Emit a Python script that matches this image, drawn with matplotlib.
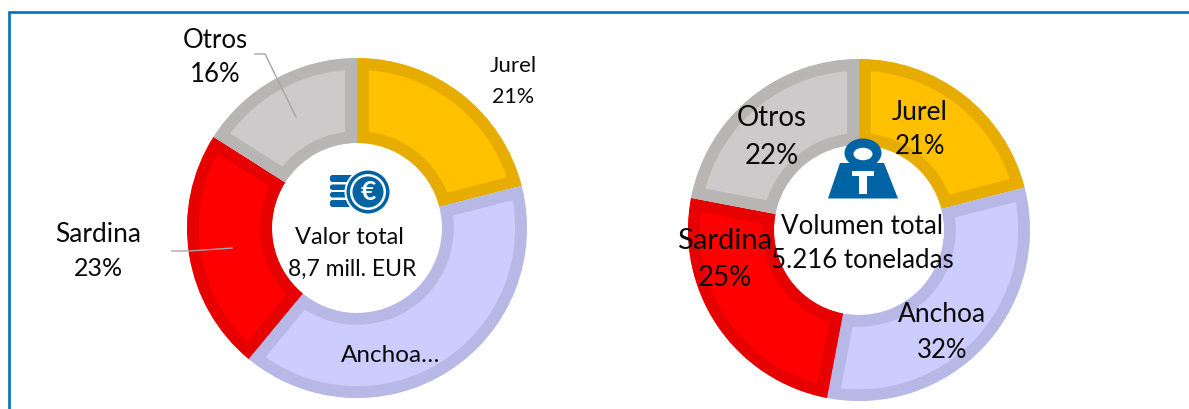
import matplotlib
matplotlib.use("Agg")
import matplotlib.pyplot as plt
from matplotlib.patches import Circle, Ellipse, Polygon, Rectangle, FancyBboxPatch

plt.rcParams["font.family"] = ["Lato", "DejaVu Sans"]

species = ["Jurel", "Anchoa", "Sardina", "Otros"]
valor_pct = [21, 40, 23, 16]
volumen_pct = [21, 32, 25, 22]

fills = ["#FFC000", "#CCCCFF", "#FF0000", "#CCCACA"]
edges = ["#E6AD00", "#B8B8E6", "#E60000", "#B8B5B5"]
BLUE = "#0063A3"
H = 409


def Y(py):
    # picture rows to axes y
    return H - py


def donut(ax, vals, cx, cy, r, hole):
    wedges, _ = ax.pie(vals, startangle=90, counterclock=False, center=(cx, Y(cy)), radius=r,
                       colors=fills, wedgeprops=dict(width=r - hole))
    for w, c in zip(wedges, edges):
        # stroke stays inside the slice, so draw it double and clip it
        w.set_edgecolor(c)
        w.set_linewidth(17)
        w.set_joinstyle("miter")
        w.set_clip_on(True)
        w.set_clip_path(w)


def label(ax, x, y, s, size):
    ax.text(x, Y(y), s, ha="center", va="center", fontsize=size, color="#0a0a0a", zorder=10)


def euro_icon(ax):
    for y, h, x1 in [(175, 7, 356), (184.5, 5.5, 350), (192, 5.5, 350), (200, 7, 356)]:
        ax.add_patch(FancyBboxPatch((330, Y(y + h)), x1 - 330, h, boxstyle="round,pad=0,rounding_size=2.5",
                                    fc=BLUE, ec="none", zorder=5))
    ax.add_patch(Circle((368, Y(192)), 23.5, fc="white", ec="none", zorder=6))
    ax.add_patch(Circle((368, Y(192)), 21.5, fc=BLUE, ec="none", zorder=7))
    ax.add_patch(Circle((368, Y(192)), 18, fc="white", ec="none", zorder=8))
    ax.add_patch(Circle((368, Y(192)), 15.5, fc=BLUE, ec="none", zorder=9))
    ax.text(368, Y(192), "€", color="white", fontsize=19, fontweight="bold", ha="center", va="center", zorder=10)


def weight_icon(ax):
    ax.add_patch(Ellipse((863, Y(153)), 37, 29, fc=BLUE, ec="none", zorder=5))
    ax.add_patch(Polygon([(840, Y(163)), (884, Y(163)), (898, Y(198.5)), (828, Y(198.5))],
                         closed=True, fc=BLUE, ec="none", zorder=5))
    ax.add_patch(Ellipse((863, Y(154)), 19, 12.5, fc="white", ec="none", zorder=6))
    ax.add_patch(Rectangle((852, Y(176)), 22, 5, fc="white", ec="none", zorder=6))
    ax.add_patch(Rectangle((859, Y(194)), 8, 18, fc="white", ec="none", zorder=6))


fig = plt.figure(figsize=(11.89, 4.09), dpi=100)
ax = fig.add_axes([0, 0, 1, 1])

donut(ax, valor_pct, 357, 228, 170, 85)
donut(ax, volumen_pct, 859, 230, 171, 85)

ax.set_xlim(0, 1189)
ax.set_ylim(0, H)
ax.set_aspect("auto")
ax.axis("off")

# frame, open on the right and at the bottom
ax.plot([9, 9, 1189], [Y(409), Y(12), Y(12)], color="#0070C0", lw=1.9, solid_joinstyle="miter", zorder=12)

# leader lines
ax.plot([255, 265, 296], [Y(54), Y(54), Y(117)], color="#A6A6A6", lw=1, zorder=4)
ax.plot([172, 190, 232], [Y(251), Y(251), Y(248)], color="#A6A6A6", lw=1, zorder=4)

euro_icon(ax)
weight_icon(ax)

label(ax, 215, 41, "Otros", 18.5)
label(ax, 215, 74, "16%", 18.5)
label(ax, 513, 66, "Jurel", 16)
label(ax, 513, 97, "21%", 15.5)
label(ax, 98, 235, "Sardina", 19)
label(ax, 98, 269, "23%", 18)
label(ax, 391, 356, "Anchoa…", 17.5)
label(ax, 349, 237, "Valor total", 17)
label(ax, 352, 269, "8,7 mill. EUR", 16.5)

label(ax, 772, 118, "Otros", 20)
label(ax, 772, 156, "22%", 20)
label(ax, 920, 112, "Jurel", 19)
label(ax, 920, 146, "21%", 18.5)
label(ax, 725, 241, "Sardina", 21)
label(ax, 725, 278, "25%", 20)
label(ax, 942, 315, "Anchoa", 19)
label(ax, 942, 350, "32%", 18.5)
label(ax, 862, 227, "Volumen total", 18.7)
label(ax, 862, 261, "5.216 toneladas", 18.6)

fig.savefig("out.png", dpi=100)
